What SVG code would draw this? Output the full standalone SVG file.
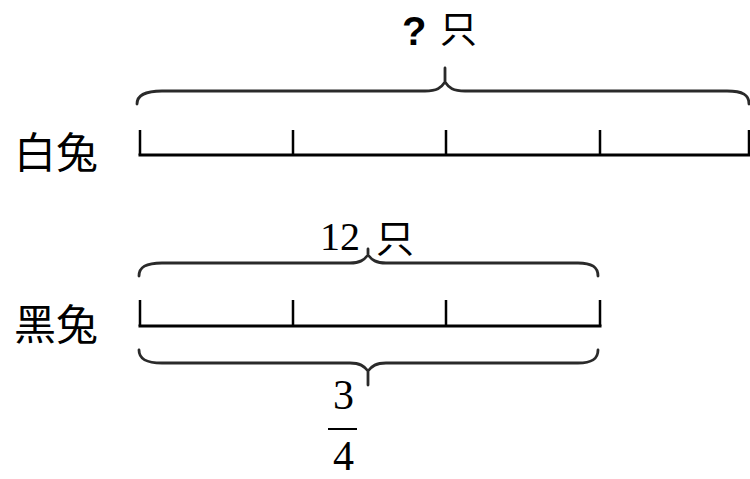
<svg xmlns="http://www.w3.org/2000/svg" width="750" height="479" viewBox="0 0 750 479">
<style>
.bar{stroke:#000;stroke-width:3;fill:none;stroke-linecap:square}
.tick{stroke:#000;stroke-width:2.5;fill:none}
.brace{stroke:#2a2a2a;stroke-width:2.8;fill:none;stroke-linecap:round}
.cjk{font-family:"Noto Sans CJK SC","Noto Sans",sans-serif;fill:#000}
.num{font-family:"Liberation Serif",serif;fill:#000}
</style>
<rect width="750" height="479" fill="#fff"/>
<g id="white-rabbit">
<text class="cjk" x="14" y="168" font-size="42">白兔</text>
<line class="bar" x1="140" y1="155" x2="750" y2="155"/>
<path class="tick" d="M140,130V155M293,130V155M446,130V155M600,130V155M749,130V155"/>
</g>
<g id="black-rabbit">
<text class="cjk" x="14" y="340" font-size="42">黑兔</text>
<line class="bar" x1="140" y1="326" x2="600" y2="326"/>
<path class="tick" d="M140,300V326M293,300V326M446,300V326M600,300V326"/>
</g>
<g id="connectors">
<path class="brace" d="M137,104 C137,95 145,91 162,91 H425 C437,91 441,88 445,82 C449,88 453,91 465,91 H727 C743,91 749,95 749,104 M445,82 V68"/>
<path class="brace" d="M139,276 C139,267 146,263 162,263 H350 C360,263 364,260 368,255 C372,260 376,263 386,263 H578 C592,263 598,267 598,276 M368,255 V249"/>
<path class="brace" d="M139,350 C139,359 146,363 162,363 H350 C360,363 364,366 368,371 C372,366 376,363 386,363 H578 C592,363 598,359 598,350 M368,371 V385"/>
</g>
<g id="label-total">
<text x="402" y="45" font-family="Liberation Sans,sans-serif" font-weight="bold" font-size="40" fill="#000">?</text>
<text class="cjk" x="440" y="43" font-size="37">只</text>
</g>
<g id="label-12">
<text class="num" x="320" y="250" font-size="40">12</text>
<text class="cjk" x="376" y="252" font-size="38">只</text>
</g>
<g id="label-fraction">
<text class="num" x="333" y="409" font-size="42">3</text>
<line x1="328" y1="429" x2="357" y2="429" stroke="#000" stroke-width="2"/>
<text class="num" x="333" y="470" font-size="42">4</text>
</g>
</svg>
